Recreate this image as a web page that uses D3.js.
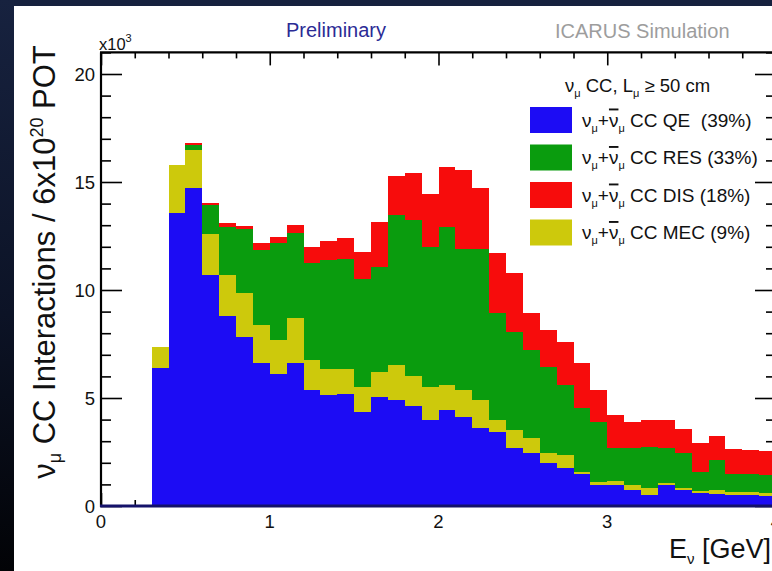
<!DOCTYPE html>
<html>
<head>
<meta charset="utf-8">
<script src="https://cdn.jsdelivr.net/npm/d3@7"></script>
<style>
  html, body { margin: 0; padding: 0; background: #ffffff; }
  svg { display: block; font-family: "Liberation Sans", Arial, Helvetica, sans-serif; }
</style>
</head>
<body>
<svg id="chart" width="772" height="571"></svg>
<script>
// Lower edges of the 0.1 GeV energy bins (GeV)
const binLow = [0.0,0.1,0.2,0.3,0.4,0.5,0.6,0.7,0.8,0.9,
                1.0,1.1,1.2,1.3,1.4,1.5,1.6,1.7,1.8,1.9,
                2.0,2.1,2.2,2.3,2.4,2.5,2.6,2.7,2.8,2.9,
                3.0,3.1,3.2,3.3,3.4,3.5,3.6,3.7,3.8,3.9];
const binWidth = 0.1;

// Interactions per bin, in units of 10^3, for each CC channel
const qe  = [0,0,0,6.40,13.58,14.70,10.69,8.81,7.84,6.60,6.11,6.64,5.37,5.14,5.19,4.37,5.03,4.91,4.65,3.99,
             4.44,4.14,3.59,3.44,2.67,2.44,1.98,1.75,1.48,0.97,0.97,0.74,0.51,0.97,0.74,0.59,0.56,0.51,0.51,0.48];
const mec = [0,0,0,0.98,2.22,1.78,1.89,1.88,2.01,1.78,1.58,2.06,1.39,1.19,1.14,1.15,1.19,1.62,1.38,1.51,
             1.16,1.23,1.32,0.56,0.85,0.69,0.46,0.61,0.11,0.16,0.19,0.23,0.31,0.08,0.08,0.12,0.18,0.15,0.15,0.14];
const res = [0,0,0,0,0,0.23,1.35,2.21,2.96,3.47,4.47,3.95,4.50,5.06,5.09,4.98,4.83,6.94,7.21,6.50,
             7.30,6.51,6.97,4.92,4.55,4.07,4.01,3.24,2.93,2.77,1.53,1.72,1.90,1.64,1.62,0.88,1.39,0.82,0.82,0.83];
const dis = [0,0,0,0,0,0.09,0.11,0.19,0.15,0.31,0.31,0.35,0.71,0.88,0.97,1.27,2.11,1.83,2.19,2.45,
             2.78,3.68,2.83,2.81,2.73,1.72,1.70,2.00,2.08,1.47,1.52,1.21,1.26,1.29,1.11,1.34,1.11,1.14,1.11,1.10];

// Stacking order (bottom to top) and legend order
const stackKeys  = ["qe", "mec", "res", "dis"];
const legendKeys = ["qe", "res", "dis", "mec"];
const legendLabels = {
  qe:  " CC QE\u00a0\u00a0(39%)",
  res: " CC RES (33%)",
  dis: " CC DIS (18%)",
  mec: " CC MEC (9%)"
};
const colors = { qe: "#1c0cf4", mec: "#cdc90c", res: "#0a9c0e", dis: "#f70c0c" };

const yMajor = [0, 5, 10, 15, 20];
const yMinor = [1,2,3,4,6,7,8,9,11,12,13,14,16,17,18,19,21];
const xMajor = [0, 1, 2, 3, 4];
const xMinor = [0.2,0.4,0.6,0.8,1.2,1.4,1.6,1.8,2.2,2.4,2.6,2.8,3.2,3.4,3.6,3.8];

const svg = d3.select("#chart");
const W = 772, H = 571;

// Slide backdrop: navy strip across the top, darkening strip down the left side
const defs = svg.append("defs");
const grad = defs.append("linearGradient").attr("id", "sideShade")
  .attr("x1", 0).attr("y1", 0).attr("x2", 0).attr("y2", 1);
grad.append("stop").attr("offset", "0%").attr("stop-color", "#17223f");
grad.append("stop").attr("offset", "55%").attr("stop-color", "#0c1326");
grad.append("stop").attr("offset", "100%").attr("stop-color", "#020306");
svg.append("rect").attr("x", 0).attr("y", 0).attr("width", W).attr("height", H).attr("fill", "#ffffff");
svg.append("rect").attr("x", 0).attr("y", 0).attr("width", W).attr("height", 6).attr("fill", "#16213e");
svg.append("rect").attr("x", 0).attr("y", 0).attr("width", 14).attr("height", H).attr("fill", "url(#sideShade)");

// Scales
const x = d3.scaleLinear().domain([0, 4]).range([101, 776]);
const y = d3.scaleLinear().domain([0, 21]).range([506, 52.4]);
const x0 = x(0), x1 = x(4), yb = y(0), yt = y(21);

// Ticks on all four sides of the frame (drawn under the histogram)
const ticks = svg.append("g");
function tickAxis(axis, tx, ty) {
  const g = ticks.append("g").attr("transform", `translate(${tx},${ty})`).call(axis);
  g.select(".domain").remove();
  g.selectAll("text").remove();
  g.selectAll("line").attr("stroke", "#000").attr("stroke-width", 1.6);
}
tickAxis(d3.axisRight(y).tickValues(yMajor).tickSize(21), x0, 0);
tickAxis(d3.axisRight(y).tickValues(yMinor).tickSize(10), x0, 0);
tickAxis(d3.axisLeft(y).tickValues(yMajor).tickSize(21), x1, 0);
tickAxis(d3.axisLeft(y).tickValues(yMinor).tickSize(10), x1, 0);
tickAxis(d3.axisBottom(x).tickValues(xMajor).tickSize(13), 0, yt);
tickAxis(d3.axisBottom(x).tickValues(xMinor).tickSize(6), 0, yt);
tickAxis(d3.axisTop(x).tickValues(xMajor).tickSize(13), 0, yb);
tickAxis(d3.axisTop(x).tickValues(xMinor).tickSize(6), 0, yb);

// Stacked histogram
const rows = binLow.map((e, i) => ({ e, qe: qe[i], mec: mec[i], res: res[i], dis: dis[i] }));
const lastRow = rows[rows.length - 1];
rows.push(Object.assign({}, lastRow, { e: lastRow.e + binWidth }));
const layers = d3.stack().keys(stackKeys)(rows);
const area = d3.area()
  .curve(d3.curveStepAfter)
  .x(d => x(d.data.e))
  .y0(d => y(d[0]))
  .y1(d => y(d[1]));
svg.append("g").selectAll("path").data(layers).join("path")
  .attr("d", area)
  .attr("fill", d => colors[d.key])
  .attr("shape-rendering", "crispEdges");

// Frame
svg.append("line").attr("x1", x0).attr("x2", x0).attr("y1", yt).attr("y2", yb + 1).attr("stroke", "#000").attr("stroke-width", 2.2);
svg.append("line").attr("x1", x0 - 1).attr("x2", x1).attr("y1", yt).attr("y2", yt).attr("stroke", "#000").attr("stroke-width", 2.2);
svg.append("line").attr("x1", x0 - 1).attr("x2", x1).attr("y1", yb).attr("y2", yb).attr("stroke", "#14126a").attr("stroke-width", 3);

// Tick labels
const lab = svg.append("g").attr("fill", "#111").attr("font-size", 18.5);
lab.selectAll("text.yl").data(yMajor).join("text").attr("class", "yl")
  .attr("x", 95).attr("y", d => y(d)).attr("dy", "0.36em").attr("text-anchor", "end").text(d => d);
lab.selectAll("text.xl").data(xMajor).join("text").attr("class", "xl")
  .attr("x", d => x(d)).attr("y", 528).attr("text-anchor", "middle").text(d => d);

// Axis multiplier
const mult = svg.append("text").attr("x", 99).attr("y", 50).attr("font-size", 16.5).attr("fill", "#111");
mult.append("tspan").text("x10");
mult.append("tspan").attr("font-size", 11).attr("dy", -8).text("3");

// Y axis title
const yTitle = svg.append("text").attr("transform", "translate(55,262) rotate(-90)")
  .attr("text-anchor", "middle").attr("font-size", 31).attr("fill", "#111");
yTitle.append("tspan").text("ν");
yTitle.append("tspan").attr("font-size", 18).attr("dy", 6).text("μ");
yTitle.append("tspan").attr("dy", -6).text(" CC Interactions / 6x10");
yTitle.append("tspan").attr("font-size", 18).attr("dy", -12).text("20");
yTitle.append("tspan").attr("dy", 12).text(" POT");

// X axis title
const xTitle = svg.append("text").attr("x", 771).attr("y", 558).attr("text-anchor", "end")
  .attr("font-size", 27).attr("fill", "#111");
xTitle.append("tspan").text("E");
xTitle.append("tspan").attr("font-size", 15).attr("dy", 6).text("ν");
xTitle.append("tspan").attr("dy", -6).text(" [GeV]");

// Header texts
svg.append("text").attr("x", 336).attr("y", 37).attr("text-anchor", "middle")
  .attr("font-size", 20).attr("fill", "#2b2b95").text("Preliminary");
svg.append("text").attr("x", 555).attr("y", 38)
  .attr("font-size", 20).attr("fill", "#9d9d9d").text("ICARUS Simulation");

// Legend
const leg = svg.append("g").attr("fill", "#111");
const lt = leg.append("text").attr("x", 565).attr("y", 92).attr("font-size", 18.5);
lt.append("tspan").text("ν");
lt.append("tspan").attr("font-size", 11).attr("dy", 5).text("μ");
lt.append("tspan").attr("dy", -5).text(" CC, L");
lt.append("tspan").attr("font-size", 11).attr("dy", 5).text("μ");
lt.append("tspan").attr("dy", -5).text(" ≥ 50 cm");

const boxTop = [107, 144.5, 182, 219.5];
legendKeys.forEach((k, i) => {
  leg.append("rect").attr("x", 530).attr("y", boxTop[i]).attr("width", 42).attr("height", 26)
    .attr("fill", colors[k]);
  const t = leg.append("text").attr("x", 582).attr("y", boxTop[i] + 19.5).attr("font-size", 19);
  t.append("tspan").text("ν");
  t.append("tspan").attr("font-size", 11).attr("dy", 5).text("μ");
  t.append("tspan").attr("dy", -5).text("+");
  t.append("tspan").attr("style", "text-decoration: overline").text("ν");
  t.append("tspan").attr("font-size", 11).attr("dy", 5).text("μ");
  t.append("tspan").attr("dy", -5).text(legendLabels[k]);
});
</script>
</body>
</html>
